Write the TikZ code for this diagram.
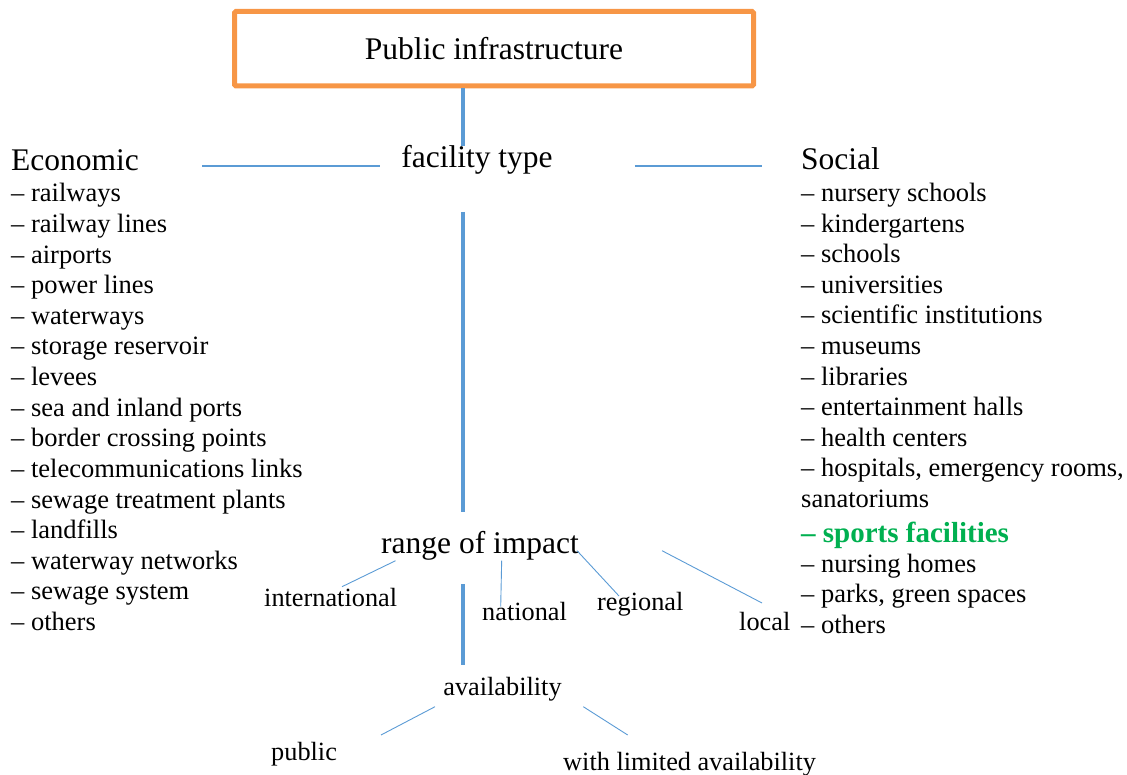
\documentclass[tikz,border=0pt]{standalone}
\usepackage{fontspec}
\setmainfont{Liberation Serif}
\usetikzlibrary{calc}
\definecolor{linkblue}{HTML}{5B9BD5}
\definecolor{boxorange}{HTML}{F79646}
\definecolor{sportsgreen}{HTML}{00B050}
\begin{document}
\begin{tikzpicture}[x=1pt,y=-1pt,
  head/.style={inner sep=0, font=\fontsize{31.5}{36}\selectfont},
  listitem/.style={anchor=base west, inner sep=0, font=\fontsize{26.5}{30}\selectfont},
  lbl/.style={anchor=base west, inner sep=0, font=\fontsize{26.3}{30}\selectfont},
  titlebox/.style={draw=boxorange, line width=5pt, rounded corners=1.5pt,
    minimum width=519pt, minimum height=74.5pt, inner sep=0,
    text height=25.5pt, text depth=3pt, font=\fontsize{31.5}{36}\selectfont},
  trunk/.style={draw=linkblue, line width=3.6pt},
  link/.style={draw=linkblue, line width=1.2pt},
  twig/.style={draw=linkblue, line width=0.9pt}]
\useasboundingbox (0,0) rectangle (1127,775);

% title box
\node[titlebox] (pub) at (494,48.75) {Public infrastructure};

% first level
\node[head, anchor=base] (ftype) at (477,168) {facility type};
\node[head, anchor=base west] (econ) at (11,171) {Economic};
\node[head, anchor=base west] (social) at (801,170) {Social};

% economic facilities
\foreach \t [count=\i from 0] in {railways, railway lines, airports, power lines,
  waterways, storage reservoir, levees, sea and inland ports, border crossing points,
  telecommunications links, sewage treatment plants, landfills, waterway networks,
  sewage system, others}
  \node[listitem] (e\i) at (11,{202+30.6*\i}) {\textendash\ \t};

% social facilities
\foreach \t [count=\i from 0] in {nursery schools, kindergartens, schools, universities,
  scientific institutions, museums, libraries, entertainment halls, health centers,
  {hospitals, emergency rooms,}}
  \node[listitem] (s\i) at (801,{202+30.5*\i}) {\textendash\ \t};
\node[listitem] (s10) at (801,507) {sanatoriums};
\node[listitem, font=\fontsize{29}{30}\selectfont\bfseries, text=sportsgreen]
  (s11) at (801,542) {\textendash\ sports facilities};
\node[listitem] (s12) at (801,572.7) {\textendash\ nursing homes};
\node[listitem] (s13) at (801,602.5) {\textendash\ parks, green spaces};
\node[listitem] (s14) at (801,633) {\textendash\ others};

% range of impact
\node[head, anchor=base] (range) at (480,553) {range of impact};
\node[lbl] (intl) at (264,606) {international};
\node[lbl] (natl) at (482,620) {national};
\node[lbl] (regl) at (597,610) {regional};
\node[lbl] (locl) at (739,630) {local};

% availability
\node[lbl, anchor=base] (avail) at (502.5,695) {availability};
\node[lbl] (publ) at (271,760) {public};
\node[lbl] (limit) at (563,770) {with limited availability};

% main trunk
\coordinate (tx) at (462.8,0);
\draw[trunk] (pub.south -| tx) -- (ftype.north -| tx);
\draw[trunk, shorten <=37pt, shorten >=18.5pt] (ftype.south -| tx) -- (range.north -| tx);
\draw[trunk, shorten <=24pt, shorten >=12pt] (range.south -| tx) -- (avail.north -| tx);

% facility type branches
\draw[link] ($(econ.base east)+(63,-5)$) -- ($(ftype.base west)+(-21,-2)$);
\draw[link] ($(ftype.base east)+(82,-2)$) -- ($(social.base west)+(-39,-4)$);

% range of impact branches
\draw[twig] ($(range.base west)+(14.6,7.7)$) -- ($(intl.base west)+(78,-19.3)$);
\draw[twig] ($(range.base west)+(120.7,7.7)$) -- ($(natl.base west)+(18.7,-13.3)$);
\draw[twig] ($(range.base east)+(-2,-2.3)$) -- ($(regl.base west)+(22,-14)$);
\draw[twig] ($(range.base east)+(83,-2.3)$) -- ($(locl.base west)+(23,-27)$);

% availability branches
\draw[twig] ($(avail.base)+(-67.5,11.7)$) -- ($(publ.base west)+(110,-25)$);
\draw[twig] ($(avail.base)+(80.8,11.7)$) -- ($(limit.base west)+(64.7,-35)$);
\end{tikzpicture}
\end{document}
